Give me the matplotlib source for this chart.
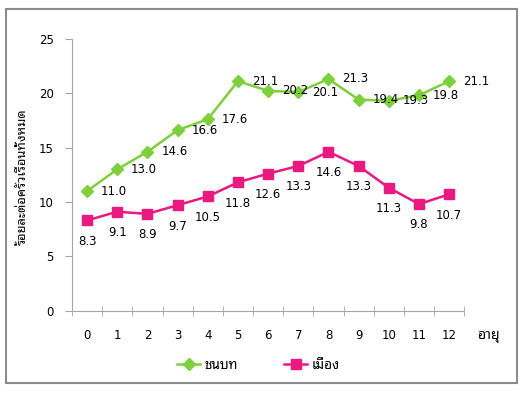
import matplotlib
matplotlib.use("Agg")
import numpy as np
import matplotlib.pyplot as plt
from matplotlib.patches import Rectangle
from matplotlib.ticker import FixedLocator

# ---- data ----
ages = list(range(13))
rural = [11.0, 13.0, 14.6, 16.6, 17.6, 21.1, 20.2, 20.1, 21.3, 19.4, 19.3, 19.8, 21.1]
urban = [8.3, 9.1, 8.9, 9.7, 10.5, 11.8, 12.6, 13.3, 14.6, 13.3, 11.3, 9.8, 10.7]
series_names = ["ชนบท", "เมือง"]
ylabel = "ร้อยละต่อครัวเรือนทั้งหมด"
xlabel = "อายุ"

plt.rcParams['font.family'] = ['DejaVu Sans', 'Noto Sans Thai Looped']
thai = 'Noto Sans Thai Looped'
green = '#7ED03A'
pink = '#EA187F'
axis_gray = '#A6A6A6'

fig = plt.figure(figsize=(5.27, 3.93), dpi=100)
ax = fig.add_axes([0.1366, 0.2094, 0.7444, 0.6921])

l1, = ax.plot(ages, rural, color=green, lw=1.8, marker='D', ms=6, label=series_names[0])
l2, = ax.plot(ages, urban, color=pink, lw=1.8, marker='s', ms=7, label=series_names[1])

# data labels: rural to the right, urban below
for x, v in zip(ages, rural):
    ax.annotate(f"{v:.1f}", (x, v), xytext=(10, 0), textcoords='offset points',
                ha='left', va='center', fontsize=8.5)
for x, v in zip(ages, urban):
    ax.annotate(f"{v:.1f}", (x, v), xytext=(0, -15), textcoords='offset points',
                ha='center', va='center', fontsize=8.5)

ax.set_xlim(-0.5, 12.5)
ax.set_ylim(0, 25)
ax.set_yticks(np.arange(0, 26, 5))
ax.set_xticks(ages)
ax.xaxis.set_minor_locator(FixedLocator(np.arange(-0.5, 13, 1)))
ax.tick_params(axis='x', which='major', length=0, pad=13, labelsize=8.5)
ax.tick_params(axis='x', which='minor', length=7, direction='inout', color=axis_gray)
ax.tick_params(axis='y', length=5, color=axis_gray, labelsize=8.5, pad=8)

for s in ['top', 'right']:
    ax.spines[s].set_visible(False)
for s in ['left', 'bottom']:
    ax.spines[s].set_color(axis_gray)

fig.text(0.042, 0.55, ylabel, rotation=90, ha='center', va='center', fontsize=9.3, family=thai)
fig.text(0.926, 0.147, xlabel, ha='center', va='center', fontsize=10, family=thai)

leg = fig.legend(handles=[l1, l2], loc='center', bbox_to_anchor=(0.49, 0.071), ncol=2,
                 frameon=False, handlelength=1.7, columnspacing=3.4, handletextpad=0.3,
                 prop={'family': thai, 'size': 9.8})

# outer chart border
fig.patches.append(Rectangle((0.0114, 0.0254), 0.970, 0.952, transform=fig.transFigure,
                             fill=False, edgecolor='#8C8C8C', lw=1.5))

fig.savefig("out.png", dpi=100)
